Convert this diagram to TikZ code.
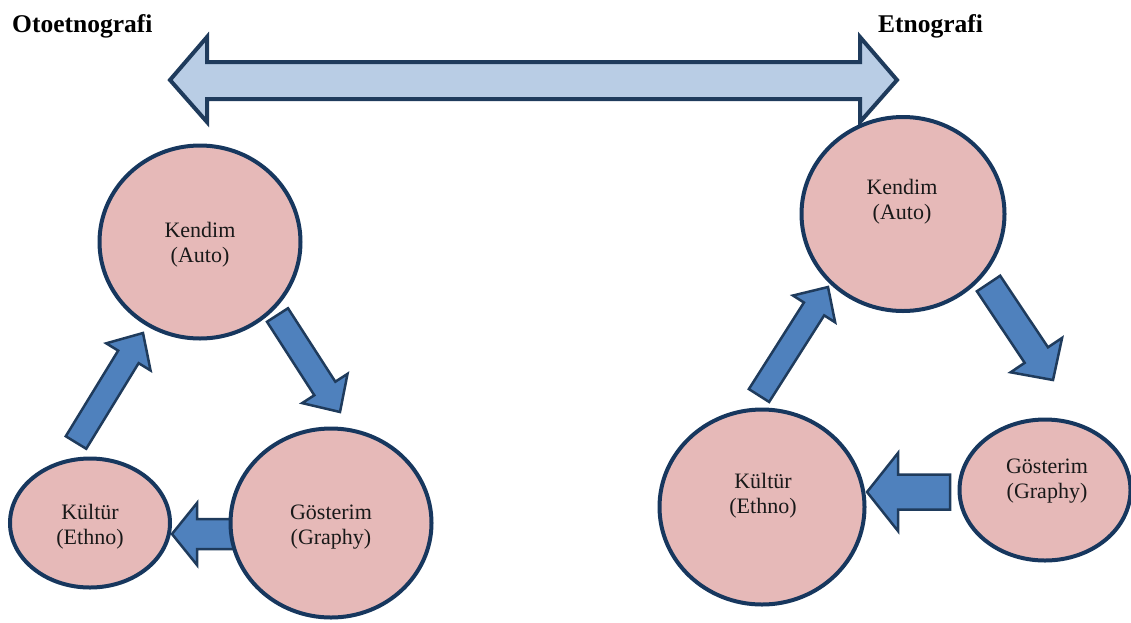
\documentclass[tikz,border=0pt]{standalone}
\usepackage{fontspec}
\setmainfont{Liberation Serif}
\usetikzlibrary{calc,shapes.geometric}
\definecolor{circfill}{HTML}{E6B9B8}
\definecolor{navy}{HTML}{17375E}
\definecolor{blockfill}{HTML}{4F81BD}
\definecolor{blockline}{HTML}{1F3B5C}
\definecolor{dblfill}{HTML}{B9CDE5}
\newcommand\blockarrow[6][]{% style, tail, tip, half shaft, half head, head length
  \coordinate (bab) at ($(#3)!#6!(#2)$);
  \draw[blockarr,#1] ($(#2)!#4!90:(#3)$) -- ($(bab)!#4!-90:(#2)$) -- ($(bab)!#5!-90:(#2)$) -- (#3)
    -- ($(bab)!#5!90:(#2)$) -- ($(bab)!#4!90:(#2)$) -- ($(#2)!#4!-90:(#3)$) -- cycle;}
\tikzset{
  blob/.style={ellipse, draw=navy, line width=4pt, fill=circfill, inner sep=0pt},
  blobtext/.style={align=center, font=\fontsize{22}{25}\selectfont, text=black!90},
  title/.style={anchor=base west, font=\fontsize{25.5}{28}\selectfont\bfseries, inner sep=0pt},
  blockarr/.style={fill=blockfill, draw=blockline, line width=2.5pt, line join=miter},
  dblarr/.style={fill=dblfill, draw=blockline, line width=4pt, line join=miter}
}
\begin{document}
\begin{tikzpicture}[x=1pt,y=-1pt]
\useasboundingbox (0,0) rectangle (1131,622);
% titles
\node[title] (tL) at (12,32) {Otoetnografi};
\node[title] (tR) at (878,32) {Etnografi};
% double arrow
\coordinate (dL) at (170,80);
\coordinate (dR) at (897,80);
\draw[dblarr] (dL) -- (207,37) -- (207,62) -- (860,62) -- (860,37) -- (dR)
  -- (860,122) -- (860,99) -- (207,99) -- (207,122) -- cycle;
% block arrow end points
\coordinate (a1s) at (76,442.5);  \coordinate (a1e) at (143,333);
\coordinate (a2s) at (277.5,315); \coordinate (a2e) at (340,412);
\coordinate (a3s) at (240,534);   \coordinate (a3e) at (172,534);
\coordinate (b1s) at (759,395.5); \coordinate (b1e) at (828,287);
\coordinate (b2s) at (988.5,283.5); \coordinate (b2e) at (1053,380);
\coordinate (b3s) at (950,492);   \coordinate (b3e) at (867,492);
\blockarrow{a1s}{a1e}{12pt}{26pt}{28pt}
\blockarrow{a2s}{a2e}{12.5pt}{27pt}{28pt}
\blockarrow{a3s}{a3e}{15pt}{31pt}{25pt}
\blockarrow{b1s}{b1e}{12pt}{25pt}{26pt}
\blockarrow{b2s}{b2e}{14pt}{31pt}{30pt}
\blockarrow{b3s}{b3e}{17.5pt}{39pt}{31pt}
% circles
\node[blob, minimum width=201pt, minimum height=193pt] (kL) at (200,242) {};
\node[blob, minimum width=160pt, minimum height=129pt] (cL) at (90,523) {};
\node[blob, minimum width=201pt, minimum height=189pt] (gL) at (331,523) {};
\node[blob, minimum width=203pt, minimum height=194pt] (kR) at (903,214) {};
\node[blob, minimum width=205pt, minimum height=195pt] (cR) at (762,507) {};
\node[blob, minimum width=171pt, minimum height=141pt] (gR) at (1045,490) {};
% texts
\node[blobtext] (kLt) at (200,244.5) {Kendim\\(Auto)};
\node[blobtext] (cLt) at (90,526.5) {Kültür\\(Ethno)};
\node[blobtext] (gLt) at (331,527.5) {Gösterim\\(Graphy)};
\node[blobtext] (kRt) at (902,202) {Kendim\\(Auto)};
\node[blobtext] (cRt) at (763,495.5) {Kültür\\(Ethno)};
\node[blobtext] (gRt) at (1047,481) {Gösterim\\(Graphy)};
\end{tikzpicture}
\end{document}
